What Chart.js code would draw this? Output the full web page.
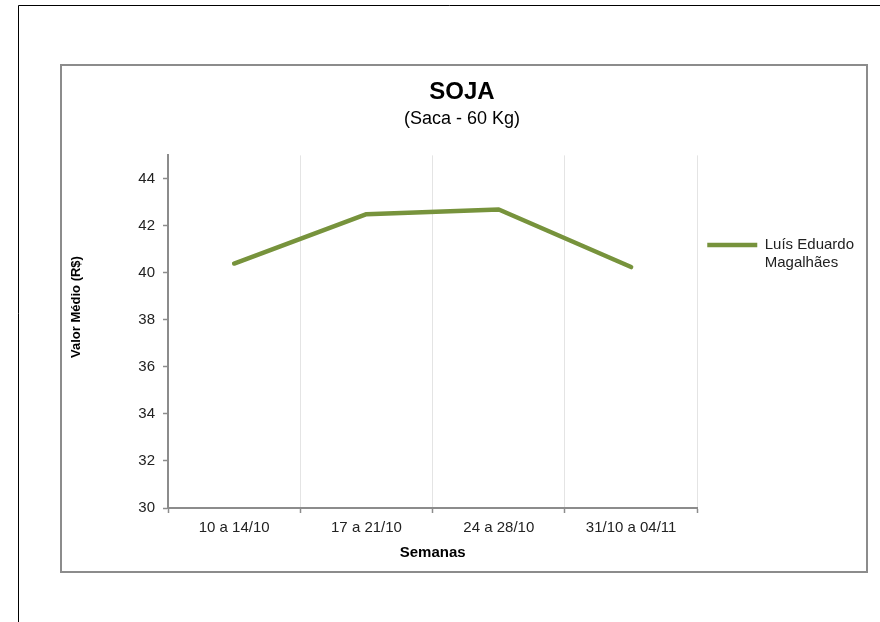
<!DOCTYPE html>
<html><head><meta charset="utf-8">
<script src="https://cdn.jsdelivr.net/npm/chart.js@4.4.1/dist/chart.umd.min.js"></script>
<style>html,body{margin:0;padding:0;background:#fff;} canvas{display:block;}</style>
</head><body>
<canvas id="c" width="880" height="622"></canvas>
<script>
const categories = ['10 a 14/10', '17 a 21/10', '24 a 28/10', '31/10 a 04/11'];
const seriesName = ['Luís Eduardo', 'Magalhães'];
const seriesValues = [40.4, 42.5, 42.7, 40.25];
const yTicks = [30, 32, 34, 36, 38, 40, 42, 44];
const titleText = 'SOJA';
const subtitleText = '(Saca - 60 Kg)';
const xTitle = 'Semanas';
const yTitle = 'Valor Médio (R$)';

const FONT = "'Liberation Sans', Arial, Helvetica, sans-serif";
const LINE_COLOR = '#77933C';
const AXIS_COLOR = '#8c8c8c';

const framePlugin = {
  id: 'frame',
  beforeDraw(chart) {
    const ctx = chart.ctx;
    ctx.save();
    ctx.fillStyle = '#fff';
    ctx.fillRect(0, 0, chart.width, chart.height);
    ctx.strokeStyle = '#000';
    ctx.lineWidth = 1;
    ctx.beginPath();
    ctx.moveTo(18.5, 622); ctx.lineTo(18.5, 5.5); ctx.lineTo(880, 5.5);
    ctx.stroke();
    ctx.strokeStyle = AXIS_COLOR;
    ctx.lineWidth = 2;
    ctx.strokeRect(61, 65, 806, 507);
    ctx.restore();
  },
  afterDraw(chart) {
    const ctx = chart.ctx;
    const a = chart.chartArea;
    ctx.save();
    ctx.font = 'bold 13px ' + FONT;
    ctx.fillStyle = '#000';
    ctx.textAlign = 'center';
    ctx.textBaseline = 'middle';
    ctx.translate(76, a.top + (a.bottom - a.top) * 0.43);
    ctx.rotate(-Math.PI / 2);
    ctx.fillText(yTitle, 0, 0);
    ctx.restore();
  }
};

new Chart(document.getElementById('c'), {
  type: 'line',
  data: {
    labels: categories,
    datasets: [{
      label: seriesName.join(' '),
      data: seriesValues,
      borderColor: LINE_COLOR,
      backgroundColor: LINE_COLOR,
      borderWidth: 4.5,
      borderCapStyle: 'round',
      borderJoinStyle: 'round',
      pointRadius: 0,
      tension: 0,
      fill: false
    }]
  },
  options: {
    responsive: false,
    animation: false,
    layout: { padding: { left: 60, right: 16, top: 64, bottom: 49 } },
    scales: {
      x: {
        offset: true,
        grid: { offset: true, color: '#e4e4e4', lineWidth: 1, tickColor: AXIS_COLOR, tickLength: 5, tickWidth: 1.5 },
        border: { color: AXIS_COLOR, width: 2 },
        ticks: { color: '#222', font: { family: FONT, size: 15 }, padding: 6, maxRotation: 0 },
        title: { display: true, text: xTitle, color: '#000', font: { family: FONT, size: 15, weight: 'bold' }, padding: { top: 0, bottom: 11 } },
        afterFit(s) { s.height = 65; }
      },
      y: {
        min: 30, max: 45,
        afterBuildTicks(s) { s.ticks = yTicks.map(v => ({ value: v })); },
        grid: { drawOnChartArea: false, tickColor: AXIS_COLOR, tickLength: 5, tickWidth: 1.5 },
        border: { color: AXIS_COLOR, width: 2 },
        ticks: { color: '#222', font: { family: FONT, size: 15 }, padding: 8 },
        afterFit(s) { s.width = 108; }
      }
    },
    plugins: {
      tooltip: { enabled: false },
      title: { display: true, text: titleText, color: '#000', font: { family: FONT, size: 24, weight: 'bold' }, padding: { top: 14, bottom: 0 } },
      subtitle: { display: true, text: subtitleText, color: '#000', font: { family: FONT, size: 18 }, padding: { top: 1, bottom: 26 } },
      legend: {
        position: 'right',
        align: 'start',
        title: { display: true, text: '', font: { family: FONT, size: 12 }, padding: { top: 149, bottom: 0 } },
        labels: {
          usePointStyle: true,
          pointStyle: 'line',
          pointStyleWidth: 50,
          padding: 10,
          color: '#222',
          font: { family: FONT, size: 15 },
          generateLabels(chart) {
            return Chart.defaults.plugins.legend.labels.generateLabels(chart).map(it => Object.assign(it, { text: seriesName }));
          }
        }
      }
    }
  },
  plugins: [framePlugin]
});
</script>
</body></html>
